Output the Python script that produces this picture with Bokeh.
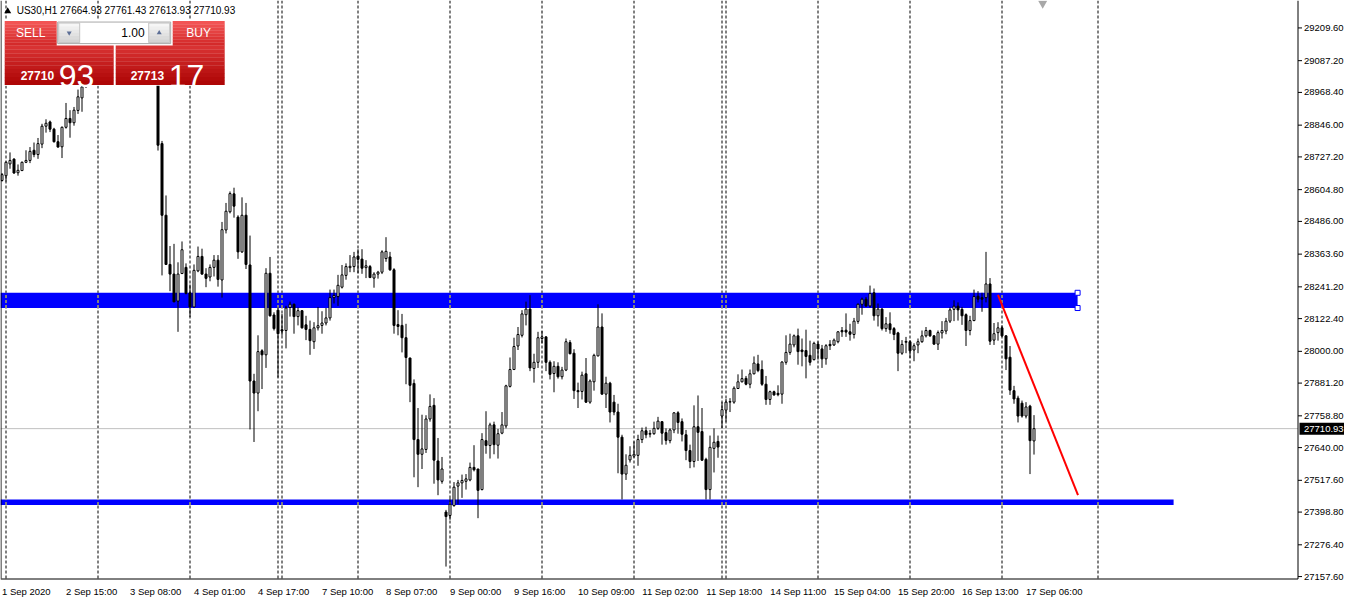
import numpy as np
from bokeh.plotting import figure
from bokeh.models import Range1d, FixedTicker
from bokeh.embed import file_html
from bokeh.resources import INLINE
from bokeh.core.properties import value

# ---------------- data ----------------
symbol = "US30,H1"
header_ohlc = ["27664.93", "27761.43", "27613.93", "27710.93"]
bid_price = 27710.93
sell_quote = ("27710", "93")
buy_quote = ("27713", "17")
lot_size = "1.00"

opens = [28639, 28657, 28701, 28719, 28668, 28676, 28707, 28714, 28752, 28736,
         28775, 28842, 28858, 28831, 28784, 28765, 28838, 28871, 28855, 28901,
         28948, 28995, 29030, 29070, 29095, 29085, 29075, 29092, 29118, 29110,
         29100, 29138, 29160, 29150, 29190, 29170, 29130, 29105, 29075, 29045,
         28777, 28509, 28325, 28289, 28188, 28291, 28314, 28219, 28166, 28301,
         28355, 28289, 28278, 28314, 28341, 28267, 28454, 28522, 28589, 28502,
         28372, 28509, 28323, 27889, 27844, 28002, 27987, 28292, 28136, 28154,
         28081, 28078, 28164, 28176, 28130, 28152, 28099, 28082, 28036, 28088,
         28097, 28106, 28125, 28201, 28205, 28240, 28284, 28313, 28317, 28356,
         28345, 28313, 28317, 28274, 28289, 28296, 28347, 28353, 28305, 28100,
         28097, 28051, 27975, 27880, 27670, 27615, 27633, 27747, 27798, 27590,
         27514, 27399, 27386, 27423, 27496, 27508, 27514, 27519, 27566, 27560,
         27483, 27666, 27648, 27725, 27649, 27694, 27721, 27869, 27932, 28020,
         28060, 28137, 28158, 27936, 27959, 28048, 28054, 27959, 27917, 27944,
         27905, 27930, 28033, 27993, 27853, 27850, 27916, 27810, 27886, 27983,
         28091, 27840, 27881, 27810, 27773, 27679, 27541, 27594, 27608, 27611,
         27670, 27703, 27690, 27692, 27712, 27737, 27696, 27666, 27706, 27770,
         27737, 27688, 27629, 27588, 27718, 27700, 27596, 27483, 27637, 27663,
         27758, 27780, 27810, 27810, 27861, 27886, 27899, 27877, 27916, 27953,
         27932, 27877, 27820, 27849, 27843, 27840, 27959, 27996, 28024, 28058,
         28005, 28003, 27985, 27969, 28027, 28009, 27972, 28026, 28024, 28036,
         28078, 28079, 28073, 28063, 28112, 28176, 28195, 28170, 28219, 28133,
         28158, 28085, 28103, 28085, 28069, 27993, 28034, 28036, 28005, 28024,
         28036, 28058, 28078, 28058, 28027, 28069, 28076, 28113, 28157, 28169,
         28157, 28137, 28078, 28115, 28206, 28201, 28201, 28252, 28042, 28070,
         28088, 28058, 27978, 27853, 27825, 27806, 27758, 27795, 27664.93]

highs = [28667, 28710, 28744, 28722, 28699, 28710, 28752, 28764, 28781, 28798,
         28851, 28868, 28863, 28836, 28809, 28841, 28929, 28902, 28914, 28979,
         29001, 29045, 29085, 29110, 29120, 29105, 29100, 29130, 29140, 29125,
         29145, 29170, 29185, 29200, 29205, 29180, 29150, 29130, 29095, 29060,
         28787, 28583, 28394, 28402, 28333, 28411, 28329, 28250, 28325, 28392,
         28384, 28311, 28325, 28360, 28360, 28484, 28555, 28598, 28612, 28509,
         28576, 28555, 28433, 27916, 28060, 28008, 28311, 28353, 28146, 28164,
         28140, 28170, 28186, 28179, 28164, 28154, 28133, 28115, 28109, 28166,
         28150, 28162, 28231, 28231, 28286, 28323, 28329, 28360, 28372, 28382,
         28382, 28341, 28323, 28296, 28301, 28378, 28427, 28372, 28311, 28154,
         28140, 28103, 27976, 27895, 27788, 27763, 27761, 27839, 27825, 27676,
         27605, 27407, 27450, 27511, 27519, 27539, 27541, 27584, 27649, 27560,
         27694, 27776, 27733, 27737, 27710, 27773, 27875, 27977, 28051, 28091,
         28154, 28186, 28210, 27991, 28073, 28076, 28057, 27966, 27963, 27959,
         27942, 28048, 28042, 28008, 27883, 27924, 27975, 27895, 27991, 28176,
         28142, 27905, 27886, 27837, 27804, 27688, 27615, 27645, 27663, 27688,
         27715, 27718, 27706, 27737, 27755, 27739, 27712, 27712, 27773, 27776,
         27749, 27706, 27651, 27798, 27835, 27788, 27602, 27685, 27712, 27685,
         27810, 27822, 27825, 27869, 27914, 27932, 27908, 27932, 27981, 27987,
         27966, 27908, 27853, 27853, 27873, 27963, 28060, 28066, 28063, 28085,
         28048, 28081, 28040, 28036, 28037, 28024, 28027, 28042, 28048, 28076,
         28091, 28142, 28103, 28125, 28179, 28201, 28203, 28246, 28235, 28179,
         28162, 28128, 28146, 28091, 28073, 28042, 28054, 28042, 28030, 28048,
         28078, 28091, 28081, 28060, 28078, 28113, 28125, 28164, 28191, 28183,
         28166, 28142, 28133, 28231, 28225, 28219, 28372, 28274, 28106, 28109,
         28097, 28060, 28020, 27871, 27834, 27816, 27810, 27800, 27761.43]

lows = [28635, 28635, 28683, 28664, 28657, 28675, 28704, 28704, 28726, 28720,
        28760, 28818, 28820, 28781, 28762, 28723, 28833, 28799, 28844, 28888,
        28896, 28985, 29020, 29055, 29070, 29060, 29065, 29085, 29100, 29090,
        29095, 29125, 29140, 29145, 29160, 29120, 29090, 29060, 29030, 28751,
        28284, 28323, 28225, 28185, 28073, 28289, 28213, 28128, 28164, 28296,
        28286, 28240, 28262, 28280, 28242, 28201, 28441, 28516, 28500, 28346,
        28368, 28308, 27708, 27661, 27776, 27859, 27938, 28130, 28078, 27902,
        28059, 28011, 28130, 28066, 28097, 28085, 28042, 27987, 28009, 28078,
        28066, 28097, 28115, 28179, 28170, 28235, 28268, 28296, 28296, 28292,
        28290, 28274, 28274, 28238, 28272, 28289, 28335, 28301, 28066, 28060,
        27996, 27877, 27810, 27529, 27492, 27560, 27620, 27737, 27505, 27462,
        27505, 27195, 27370, 27419, 27428, 27452, 27483, 27514, 27551, 27376,
        27480, 27617, 27599, 27615, 27599, 27690, 27712, 27865, 27930, 28005,
        28052, 28097, 27926, 27883, 27938, 28030, 27926, 27895, 27847, 27898,
        27895, 27926, 27989, 27822, 27788, 27820, 27807, 27804, 27853, 27981,
        27837, 27788, 27734, 27761, 27544, 27446, 27519, 27584, 27602, 27572,
        27657, 27675, 27678, 27688, 27706, 27651, 27651, 27656, 27694, 27692,
        27663, 27593, 27563, 27566, 27590, 27590, 27446, 27446, 27547, 27602,
        27712, 27737, 27773, 27804, 27859, 27884, 27873, 27862, 27914, 27922,
        27871, 27800, 27800, 27834, 27832, 27804, 27950, 27987, 28015, 27950,
        27944, 27899, 27947, 27966, 27969, 27938, 27950, 28005, 28020, 28030,
        28054, 28054, 28040, 28048, 28103, 28137, 28166, 28164, 28115, 28093,
        28078, 28073, 28066, 28042, 27926, 27987, 27993, 27975, 27963, 27993,
        28032, 28052, 28054, 28024, 28005, 28048, 28064, 28106, 28113, 28115,
        28099, 28020, 28060, 28113, 28183, 28148, 28183, 28024, 28024, 28040,
        28054, 27930, 27837, 27804, 27734, 27752, 27749, 27541, 27613.93]

closes = [28661, 28707, 28714, 28667, 28677, 28707, 28714, 28748, 28736, 28777,
          28842, 28853, 28831, 28784, 28764, 28838, 28871, 28855, 28902, 28952,
          28989, 29030, 29070, 29095, 29085, 29075, 29092, 29118, 29110, 29100,
          29138, 29160, 29150, 29190, 29170, 29130, 29105, 29075, 29045, 28771,
          28509, 28325, 28289, 28185, 28289, 28380, 28217, 28166, 28303, 28355,
          28289, 28273, 28314, 28341, 28269, 28455, 28524, 28590, 28543, 28372,
          28509, 28325, 27889, 27844, 27999, 27987, 28292, 28133, 28085, 28066,
          28076, 28162, 28176, 28130, 28152, 28088, 28082, 28040, 28088, 28096,
          28106, 28125, 28201, 28209, 28247, 28286, 28317, 28318, 28353, 28344,
          28311, 28320, 28276, 28289, 28296, 28372, 28374, 28305, 28097, 28093,
          28051, 27977, 27873, 27670, 27615, 27635, 27747, 27794, 27593, 27519,
          27560, 27382, 27428, 27492, 27508, 27517, 27523, 27566, 27557, 27480,
          27670, 27648, 27725, 27651, 27692, 27725, 27871, 27932, 28018, 28063,
          28140, 28158, 27938, 27959, 28051, 28054, 27959, 27914, 27944, 27905,
          27930, 28036, 27991, 27853, 27849, 27911, 27810, 27889, 27985, 28091,
          27840, 27881, 27773, 27773, 27679, 27541, 27574, 27611, 27615, 27670,
          27703, 27688, 27693, 27712, 27739, 27694, 27667, 27706, 27770, 27734,
          27690, 27629, 27588, 27718, 27697, 27593, 27483, 27641, 27660, 27642,
          27782, 27810, 27812, 27862, 27886, 27898, 27877, 27916, 27956, 27928,
          27877, 27820, 27849, 27837, 27838, 27960, 27996, 28027, 28058, 27999,
          27999, 27981, 27959, 28030, 28009, 27972, 28021, 28021, 28042, 28073,
          28073, 28072, 28064, 28113, 28176, 28195, 28170, 28216, 28133, 28158,
          28085, 28103, 28081, 28063, 27993, 28026, 28037, 28002, 28021, 28036,
          28058, 28078, 28058, 28027, 28070, 28078, 28113, 28155, 28169, 28155,
          28133, 28078, 28115, 28205, 28195, 28195, 28252, 28038, 28066, 28088,
          28058, 27972, 27855, 27822, 27758, 27758, 27792, 27666, 27710.93]

time_labels = ["1 Sep 2020", "2 Sep 15:00", "3 Sep 08:00", "4 Sep 01:00", "4 Sep 17:00",
               "7 Sep 10:00", "8 Sep 07:00", "9 Sep 00:00", "9 Sep 16:00", "10 Sep 09:00",
               "11 Sep 02:00", "11 Sep 18:00", "14 Sep 11:00", "15 Sep 04:00",
               "15 Sep 20:00", "16 Sep 13:00", "17 Sep 06:00"]
time_label_bars = [0, 16, 32, 48, 64, 80, 96, 112, 128, 144, 160, 176, 192, 208, 224, 240, 256]
day_separator_bars = [1, 24, 47, 69, 70, 89, 112, 135, 158, 180, 181, 204, 227, 250, 274]
price_ticks = [29209.60, 29087.20, 28968.40, 28846.00, 28727.20, 28604.80, 28486.00,
               28363.60, 28241.20, 28122.40, 28000.00, 27881.20, 27758.80, 27640.00,
               27517.60, 27398.80, 27276.40, 27157.60]

resistance_zone = [28162, 28219]      # blue rectangle (price bottom, top)
resistance_bars = [-0.4, 268.9]
support_zone = [27425, 27446]         # thin blue rectangle
support_bars = [-0.4, 292.9]
trend_bars = [249, 269]               # red trend line
trend_prices = [28211, 27462]

assert len(opens) == len(highs) == len(lows) == len(closes) == 259

# ---------------- geometry ----------------
FONT = "Liberation Sans"
BAR_PX = 4.0                 # screen px per bar
FW, CH, FH = 1344, 578, 584  # frame width, chart-area height, frame height
DX = 1.0 / BAR_PX            # data units per px (x)
X0 = -0.375
X1 = X0 + FW * DX
XR = 1297.5 * DX + X0        # right edge of the chart area (price scale line)
YT, YB = 29312.2, 27150.4    # price at top / bottom of chart area
DY = (YT - YB) / CH          # price per px
Y0 = YB - (FH - CH) * DY     # frame bottom (a few px below the chart border)

p = figure(frame_width=FW, frame_height=FH, x_range=Range1d(X0, X1), y_range=Range1d(Y0, YT),
           output_backend="svg", toolbar_location=None, y_axis_location=None,
           x_axis_location="below", min_border=0, min_border_left=0, min_border_right=0,
           min_border_top=0, min_border_bottom=0)
p.outline_line_color = None
p.grid.visible = False
p.background_fill_color = "white"
p.border_fill_color = "white"

# bottom time axis: labels start at their bar -> centre ticks half a label to the right
AW = {c: 556 for c in "0123456789"}
AW.update({" ": 278, ":": 278, "S": 667, "e": 556, "p": 556})
def text_w(s, size):
    return sum(AW.get(ch, 556) for ch in s) * size / 1000.0

centers = [round(b + text_w(t, 9.5) / 2.0 * DX, 3) for b, t in zip(time_label_bars, time_labels)]
xa = p.xaxis[0]
xa.ticker = FixedTicker(ticks=centers)
xa.major_label_overrides = {cc: t for cc, t in zip(centers, time_labels)}
xa.major_tick_out = 0
xa.major_tick_in = 0
xa.minor_tick_line_color = None
xa.major_tick_line_color = None
xa.axis_line_color = None
xa.major_label_standoff = 1
xa.major_label_text_font = FONT
xa.major_label_text_font_size = "9.5px"
xa.major_label_text_color = "black"

# day separators
n_sep = len(day_separator_bars)
p.segment(x0=day_separator_bars, y0=[YB] * n_sep, x1=day_separator_bars, y1=[YT] * n_sep,
          line_color="black", line_width=1, line_dash="3 2")

# blue zones
p.quad(left=[resistance_bars[0]], right=[resistance_bars[1]], bottom=[resistance_zone[0]],
       top=[resistance_zone[1]], fill_color="#0000FF", line_color=None)
p.quad(left=[support_bars[0]], right=[support_bars[1]], bottom=[support_zone[0]],
       top=[support_zone[1]], fill_color="#0000FF", line_color=None)
for zone, span in ((resistance_zone, resistance_bars), (support_zone, support_bars)):
    xs = [b for b in day_separator_bars if span[0] <= b <= span[1]]
    p.segment(x0=xs, y0=[zone[0]] * len(xs), x1=xs, y1=[zone[1]] * len(xs),
              line_color="#FFFF00", line_width=1, line_dash="3 2")

# bid line
p.segment(x0=[X0], y0=[bid_price], x1=[XR], y1=[bid_price], line_color="#C0C0C0", line_width=1)

# candles
o = np.array(opens, dtype=float)
c = np.array(closes, dtype=float)
h = np.maximum(np.array(highs, dtype=float), np.maximum(o, c))
l = np.minimum(np.array(lows, dtype=float), np.minimum(o, c))
idx = np.arange(len(o))
up = c >= o
dn = ~up
p.segment(x0=idx, y0=l, x1=idx, y1=h, line_color="black", line_width=1)
p.vbar(x=idx[up], width=0.5, top=c[up], bottom=o[up], fill_color="white",
       line_color="black", line_width=1)
p.vbar(x=idx[dn], width=0.5, top=o[dn], bottom=c[dn], fill_color="black",
       line_color="black", line_width=1)

# red trend line
p.line(trend_bars, trend_prices, line_color="#FF0000", line_width=2)

# selection handles of the rectangle
p.rect(x=[resistance_bars[1]] * 2, y=resistance_zone[::-1], width=5, height=5,
       width_units="screen", height_units="screen", fill_color="white",
       line_color="#0000FF", line_width=1)

# chart borders (left, bottom) and price scale
p.segment(x0=[X0 + 0.5 * DX], y0=[YB], x1=[X0 + 0.5 * DX], y1=[YT], line_color="black")
p.segment(x0=[X0], y0=[YB - 0.5 * DY], x1=[XR], y1=[YB - 0.5 * DY], line_color="black")
p.segment(x0=[XR], y0=[YB - 0.5 * DY], x1=[XR], y1=[YT], line_color="black")
nt = len(price_ticks)
p.segment(x0=[XR] * nt, y0=price_ticks, x1=[XR + 4 * DX] * nt, y1=price_ticks,
          line_color="black", line_width=1)
p.text(x=[XR + 6 * DX] * nt, y=price_ticks, text=[f"{v:.2f}" for v in price_ticks],
       text_font=value(FONT), text_font_size="9.5px", text_color="black",
       text_baseline="middle", text_align="left")
# current price box
p.quad(left=[XR + 1.5 * DX], right=[X1], top=[bid_price + 6 * DY], bottom=[bid_price - 6 * DY],
       fill_color="black", line_color=None)
p.text(x=[XR + 6 * DX], y=[bid_price], text=[f"{bid_price:.2f}"], text_font=value(FONT),
       text_font_size="9.5px", text_color="white", text_baseline="middle", text_align="left")

# ---------------- overlay decorations (reference pixel positions) ----------------
def PX(px):
    return (px - 5.3) / 4.0

def PY(py):
    return 29312.2 - 3.664 * py

def hexmix(a, b, t):
    a = [int(a[i:i + 2], 16) for i in (1, 3, 5)]
    b = [int(b[i:i + 2], 16) for i in (1, 3, 5)]
    return "#%02x%02x%02x" % tuple(int(round(a[k] + (b[k] - a[k]) * t)) for k in range(3))

def grad_box(x0, x1, y0, y1, ctop, cbot, n=8, line=None):
    step = (y1 - y0) / n
    lefts, rights, tops, bottoms, cols = [], [], [], [], []
    for i in range(n):
        lefts.append(PX(x0)); rights.append(PX(x1))
        tops.append(PY(y0 + i * step)); bottoms.append(PY(y0 + (i + 1) * step + 0.3))
        cols.append(hexmix(ctop, cbot, i / max(n - 1, 1)))
    p.quad(left=lefts, right=rights, top=tops, bottom=bottoms, fill_color=cols, line_color=None)
    if line:
        p.quad(left=[PX(x0)], right=[PX(x1)], top=[PY(y0)], bottom=[PY(y1)],
               fill_color=None, line_color=line, line_width=1)

# chart-shift marker
p.scatter(x=[PX(1046)], y=[PY(3)], marker="inverted_triangle", size=9,
          fill_color="#A8A8A8", line_color=None)

# header
p.scatter(x=[PX(11)], y=[PY(11)], marker="triangle", size=7, fill_color="black", line_color=None)
p.text(x=[PX(20)], y=[PY(10.5)], text=[symbol + "  " + " ".join(header_ohlc)],
       text_font=value(FONT), text_font_size="10px", text_color="black",
       text_baseline="middle", text_align="left")

# one-click trading panel
p.quad(left=[PX(7)], right=[PX(229)], top=[PY(20)], bottom=[PY(87)],
       fill_color="white", line_color=None)
grad_box(8, 60, 21, 46, "#F25454", "#D42A2A")          # SELL
grad_box(176, 228, 21, 46, "#F25454", "#D42A2A")       # BUY
grad_box(8, 117, 46, 86, "#D83232", "#AE0606", n=10)   # sell quote
grad_box(119, 228, 46, 86, "#D83232", "#AE0606", n=10) # buy quote
p.quad(left=[PX(61)], right=[PX(174)], top=[PY(22)], bottom=[PY(44)],
       fill_color="white", line_color="#A8A8A8", line_width=1)
grad_box(62, 83, 23, 43, "#F6F6F6", "#D4D4D4", n=6, line="#C4C4C4")
grad_box(152, 173, 23, 43, "#F6F6F6", "#D4D4D4", n=6, line="#C4C4C4")
p.scatter(x=[PX(72.5)], y=[PY(33)], marker="inverted_triangle", size=5,
          fill_color="#5D6F96", line_color=None)
p.scatter(x=[PX(162.5)], y=[PY(33)], marker="triangle", size=5,
          fill_color="#5D6F96", line_color=None)

p.text(x=[PX(34), PX(202)], y=[PY(33)] * 2, text=["SELL", "BUY"], text_font=value(FONT),
       text_font_size="12px", text_color="white", text_baseline="middle", text_align="center")
p.text(x=[PX(148)], y=[PY(33)], text=[lot_size], text_font=value(FONT),
       text_font_size="12px", text_color="black", text_baseline="middle", text_align="right")
p.text(x=[PX(24), PX(134)], y=[PY(77)] * 2, text=[sell_quote[0], buy_quote[0]],
       text_font=value(FONT), text_font_size="12px", text_font_style=value("bold"),
       text_color="white", text_baseline="alphabetic", text_align="left")
p.text(x=[PX(62), PX(172)], y=[PY(77)] * 2, text=[sell_quote[1], buy_quote[1]],
       text_font=value(FONT), text_font_size="32px", text_color="white",
       text_baseline="alphabetic", text_align="left")

open("out.html", "w").write(file_html(p, INLINE))
